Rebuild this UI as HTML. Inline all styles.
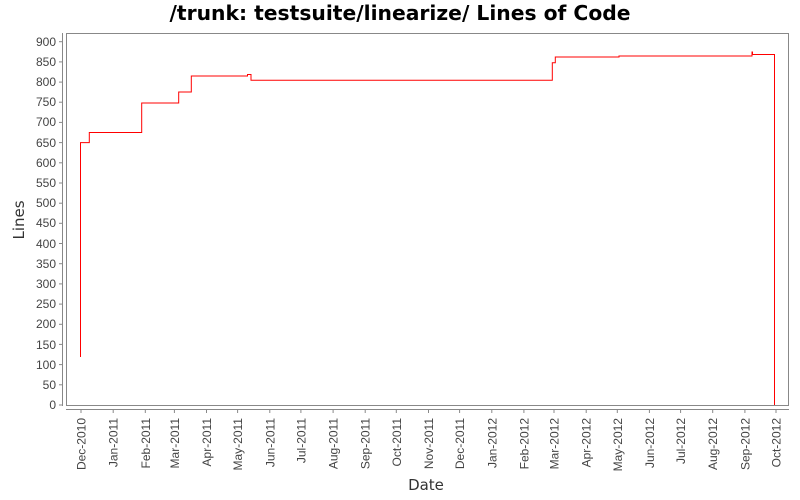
<!DOCTYPE html>
<html><head><meta charset="utf-8"><style>body{margin:0;background:#fff}svg{display:block}text{font-family:"Liberation Sans","DejaVu Sans",sans-serif}</style></head>
<body>
<svg width="800" height="500" xmlns="http://www.w3.org/2000/svg">
<text x="400" y="20" text-anchor="middle" font-size="20.3" font-weight="bold" fill="#000" style="font-family:'DejaVu Sans',sans-serif">/trunk: testsuite/linearize/ Lines of Code</text>
<rect x="66.5" y="33.5" width="722" height="372" fill="#fff" stroke="#888" stroke-width="1"/>
<line x1="62.5" y1="33" x2="62.5" y2="406" stroke="#888"/>
<line x1="66" y1="409.5" x2="789" y2="409.5" stroke="#888"/>
<g font-size="12" fill="#444" text-anchor="end" style="font-family:'DejaVu Sans',sans-serif">
<g stroke="#888">
<line x1="59" x2="62" y1="405" y2="405"/><line x1="59" x2="62" y1="384.8" y2="384.8"/><line x1="59" x2="62" y1="364.6" y2="364.6"/><line x1="59" x2="62" y1="344.4" y2="344.4"/><line x1="59" x2="62" y1="324.3" y2="324.3"/><line x1="59" x2="62" y1="304.1" y2="304.1"/><line x1="59" x2="62" y1="283.9" y2="283.9"/><line x1="59" x2="62" y1="263.7" y2="263.7"/><line x1="59" x2="62" y1="243.5" y2="243.5"/><line x1="59" x2="62" y1="223.3" y2="223.3"/><line x1="59" x2="62" y1="203.2" y2="203.2"/><line x1="59" x2="62" y1="183" y2="183"/><line x1="59" x2="62" y1="162.8" y2="162.8"/><line x1="59" x2="62" y1="142.6" y2="142.6"/><line x1="59" x2="62" y1="122.4" y2="122.4"/><line x1="59" x2="62" y1="102.2" y2="102.2"/><line x1="59" x2="62" y1="82.1" y2="82.1"/><line x1="59" x2="62" y1="61.9" y2="61.9"/><line x1="59" x2="62" y1="41.7" y2="41.7"/>
</g>
<text x="56" y="409">0</text><text x="56" y="389">50</text><text x="56" y="369">100</text><text x="56" y="349">150</text><text x="56" y="328">200</text><text x="56" y="308">250</text><text x="56" y="288">300</text><text x="56" y="268">350</text><text x="56" y="248">400</text><text x="56" y="227">450</text><text x="56" y="207">500</text><text x="56" y="187">550</text><text x="56" y="167">600</text><text x="56" y="147">650</text><text x="56" y="126">700</text><text x="56" y="106">750</text><text x="56" y="86">800</text><text x="56" y="66">850</text><text x="56" y="46">900</text>
</g>
<g stroke="#888">
<line x1="81" x2="81" y1="410" y2="413"/><line x1="113.2" x2="113.2" y1="410" y2="413"/><line x1="145.3" x2="145.3" y1="410" y2="413"/><line x1="174.4" x2="174.4" y1="410" y2="413"/><line x1="206.5" x2="206.5" y1="410" y2="413"/><line x1="237.6" x2="237.6" y1="410" y2="413"/><line x1="269.8" x2="269.8" y1="410" y2="413"/><line x1="300.9" x2="300.9" y1="410" y2="413"/><line x1="333.1" x2="333.1" y1="410" y2="413"/><line x1="365.2" x2="365.2" y1="410" y2="413"/><line x1="396.3" x2="396.3" y1="410" y2="413"/><line x1="428.5" x2="428.5" y1="410" y2="413"/><line x1="459.6" x2="459.6" y1="410" y2="413"/><line x1="491.8" x2="491.8" y1="410" y2="413"/><line x1="523.9" x2="523.9" y1="410" y2="413"/><line x1="554" x2="554" y1="410" y2="413"/><line x1="586.2" x2="586.2" y1="410" y2="413"/><line x1="617.3" x2="617.3" y1="410" y2="413"/><line x1="649.4" x2="649.4" y1="410" y2="413"/><line x1="680.6" x2="680.6" y1="410" y2="413"/><line x1="712.7" x2="712.7" y1="410" y2="413"/><line x1="744.9" x2="744.9" y1="410" y2="413"/><line x1="776" x2="776" y1="410" y2="413"/>
</g>
<g font-size="12" fill="#444" text-anchor="end" style="font-family:'DejaVu Sans',sans-serif">
<text transform="translate(85.5,418) rotate(-90)">Dec-2010</text>
<text transform="translate(117.7,418) rotate(-90)">Jan-2011</text>
<text transform="translate(149.8,418) rotate(-90)">Feb-2011</text>
<text transform="translate(178.9,418) rotate(-90)">Mar-2011</text>
<text transform="translate(211,418) rotate(-90)">Apr-2011</text>
<text transform="translate(242.1,418) rotate(-90)">May-2011</text>
<text transform="translate(274.3,418) rotate(-90)">Jun-2011</text>
<text transform="translate(305.4,418) rotate(-90)">Jul-2011</text>
<text transform="translate(337.6,418) rotate(-90)">Aug-2011</text>
<text transform="translate(369.7,418) rotate(-90)">Sep-2011</text>
<text transform="translate(400.8,418) rotate(-90)">Oct-2011</text>
<text transform="translate(433,418) rotate(-90)">Nov-2011</text>
<text transform="translate(464.1,418) rotate(-90)">Dec-2011</text>
<text transform="translate(496.3,418) rotate(-90)">Jan-2012</text>
<text transform="translate(528.4,418) rotate(-90)">Feb-2012</text>
<text transform="translate(558.5,418) rotate(-90)">Mar-2012</text>
<text transform="translate(590.7,418) rotate(-90)">Apr-2012</text>
<text transform="translate(621.8,418) rotate(-90)">May-2012</text>
<text transform="translate(653.9,418) rotate(-90)">Jun-2012</text>
<text transform="translate(685.1,418) rotate(-90)">Jul-2012</text>
<text transform="translate(717.2,418) rotate(-90)">Aug-2012</text>
<text transform="translate(749.4,418) rotate(-90)">Sep-2012</text>
<text transform="translate(780.5,418) rotate(-90)">Oct-2012</text>
</g>
<text x="426" y="490" text-anchor="middle" font-size="15" fill="#333" style="font-family:'DejaVu Sans',sans-serif">Date</text>
<text transform="translate(24,220) rotate(-90)" text-anchor="middle" font-size="15" fill="#333" style="font-family:'DejaVu Sans',sans-serif">Lines</text>
<polyline fill="none" stroke="#f00" stroke-width="1" points="80.5,357 80.5,142.6 89.3,142.6 89.3,132.5 141.7,132.5 141.7,103 178.7,103 178.7,92 191.3,92 191.3,76 247.5,76 247.5,74.5 251,74.5 251,80.3 552.3,80.3 552.3,62.7 555.3,62.7 555.3,57 619,57 619,56 752,56 752,52 752.5,52 752.5,54.5 774.5,54.5 774.5,405"/>
</svg>
</body></html>
